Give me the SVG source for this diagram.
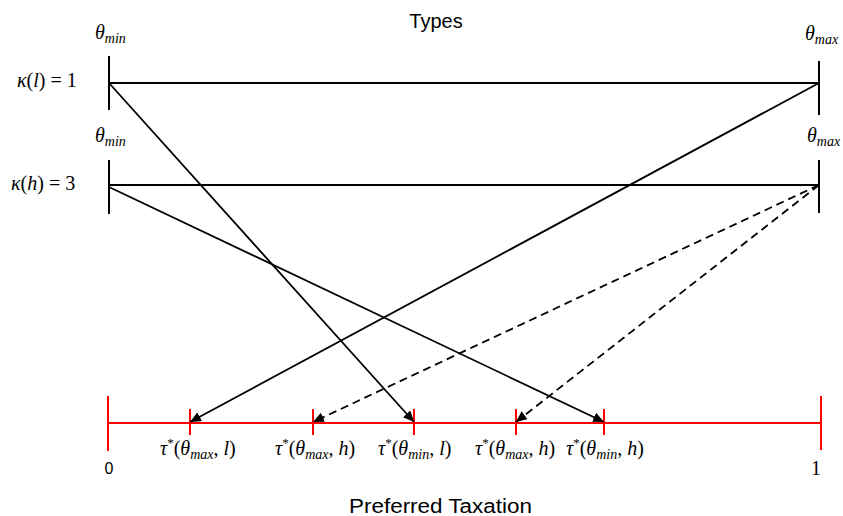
<svg xmlns="http://www.w3.org/2000/svg" width="843" height="516" viewBox="0 0 843 516">
<style>
.ax{stroke:#000;stroke-width:2;fill:none}
.red{stroke:#ff0000;stroke-width:2;fill:none}
.ar{stroke:#000;stroke-width:1.8;fill:none;marker-end:url(#ah)}
.da{stroke-dasharray:8 5}
.m{font-family:"Liberation Serif","DejaVu Serif",serif;font-size:20px;fill:#000}
.i{font-style:italic}
.sub{font-size:14px;font-style:italic}
.sup{font-size:13px}
.t{font-family:"Liberation Sans","Open Sans",sans-serif;font-size:20px;fill:#000}
.n{font-family:"Liberation Sans",sans-serif;font-size:16px;fill:#000}
</style>
<defs>
<marker id="ah" markerUnits="userSpaceOnUse" markerWidth="12" markerHeight="10" refX="11" refY="5" orient="auto">
<path d="M0,0 L11,5 L0,10 Z" fill="#000"/>
</marker>
</defs>
<text class="t" x="436" y="28" text-anchor="middle">Types</text>
<text class="t" x="349" y="513" textLength="183" lengthAdjust="spacingAndGlyphs">Preferred Taxation</text>
<g id="axis-l">
<line class="ax" x1="109" y1="56" x2="109" y2="110"/>
<line class="ax" x1="819" y1="61" x2="819" y2="115"/>
<line class="ax" x1="109" y1="83" x2="819" y2="83"/>
<text class="m" x="17" y="87"><tspan class="i">κ</tspan>(<tspan class="i">l</tspan>) = 1</text>
<text class="m" x="95" y="39"><tspan class="i">θ</tspan><tspan class="sub" dy="4">min</tspan></text>
<text class="m" x="805" y="40"><tspan class="i">θ</tspan><tspan class="sub" dy="4">max</tspan></text>
</g>
<g id="axis-h">
<line class="ax" x1="109" y1="160" x2="109" y2="214"/>
<line class="ax" x1="819" y1="160" x2="819" y2="213"/>
<line class="ax" x1="109" y1="185" x2="819" y2="185"/>
<text class="m" x="11" y="190"><tspan class="i">κ</tspan>(<tspan class="i">h</tspan>) = 3</text>
<text class="m" x="95" y="142"><tspan class="i">θ</tspan><tspan class="sub" dy="4">min</tspan></text>
<text class="m" x="807" y="142"><tspan class="i">θ</tspan><tspan class="sub" dy="4">max</tspan></text>
</g>
<g id="axis-tax">
<line class="red" x1="108" y1="423" x2="821" y2="423"/>
<line class="red" x1="108" y1="396" x2="108" y2="451"/>
<line class="red" x1="821" y1="396" x2="821" y2="450"/>
<line class="red" x1="190" y1="409" x2="190" y2="435"/>
<line class="red" x1="313" y1="409" x2="313" y2="435"/>
<line class="red" x1="414" y1="409" x2="414" y2="435"/>
<line class="red" x1="516" y1="409" x2="516" y2="435"/>
<line class="red" x1="604" y1="409" x2="604" y2="435"/>
<text class="n" x="109" y="474" text-anchor="middle">0</text>
<text class="m" x="816" y="475" text-anchor="middle">1</text>
<text class="m" x="160" y="455"><tspan class="i">τ</tspan><tspan class="sup" dy="-8">*</tspan><tspan dy="8">(</tspan><tspan class="i">θ</tspan><tspan class="sub" dy="4">max</tspan><tspan dy="-4">, </tspan><tspan class="i">l</tspan>)</text>
<text class="m" x="275" y="455"><tspan class="i">τ</tspan><tspan class="sup" dy="-8">*</tspan><tspan dy="8">(</tspan><tspan class="i">θ</tspan><tspan class="sub" dy="4">max</tspan><tspan dy="-4">, </tspan><tspan class="i">h</tspan>)</text>
<text class="m" x="378" y="455"><tspan class="i">τ</tspan><tspan class="sup" dy="-8">*</tspan><tspan dy="8">(</tspan><tspan class="i">θ</tspan><tspan class="sub" dy="4">min</tspan><tspan dy="-4">, </tspan><tspan class="i">l</tspan>)</text>
<text class="m" x="475" y="455"><tspan class="i">τ</tspan><tspan class="sup" dy="-8">*</tspan><tspan dy="8">(</tspan><tspan class="i">θ</tspan><tspan class="sub" dy="4">max</tspan><tspan dy="-4">, </tspan><tspan class="i">h</tspan>)</text>
<text class="m" x="566" y="455"><tspan class="i">τ</tspan><tspan class="sup" dy="-8">*</tspan><tspan dy="8">(</tspan><tspan class="i">θ</tspan><tspan class="sub" dy="4">min</tspan><tspan dy="-4">, </tspan><tspan class="i">h</tspan>)</text>
</g>
<g id="connectors">
<line class="ar" x1="109" y1="83" x2="414" y2="422"/>
<line class="ar" x1="819" y1="83" x2="190" y2="422"/>
<line class="ar" x1="109" y1="187" x2="604" y2="422"/>
<line class="ar da" x1="819" y1="185" x2="313" y2="422"/>
<line class="ar da" x1="819" y1="185" x2="516" y2="422"/>
</g>
</svg>
